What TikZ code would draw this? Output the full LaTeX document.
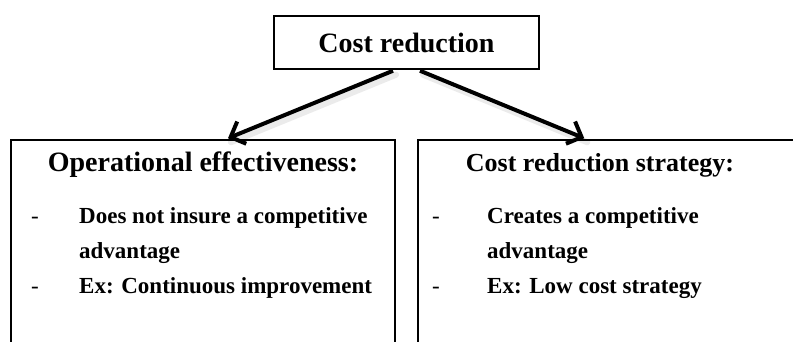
\documentclass[tikz,border=0pt]{standalone}
\usepackage{fontspec}
\setmainfont{Liberation Serif}
\usetikzlibrary{arrows.meta}
\begin{document}
\begin{tikzpicture}[x=1pt,y=-1pt,
  box/.style={draw, line width=1.5pt, inner sep=0pt},
  head/.style={font=\bfseries\fontsize{28}{30}\selectfont, inner sep=0pt},
  item/.style={font=\bfseries\fontsize{23}{26}\selectfont, anchor=base west, inner sep=0pt},
  dashitem/.style={font=\fontsize{23}{26}\selectfont, anchor=base west, inner sep=0pt},
  conn/.style={line width=4pt, -{Straight Barb[length=12pt,width=24pt,line width=4pt]}},
  shade/.style={line width=6pt, black, opacity=0.08, line cap=round}]
\useasboundingbox (0,0) rectangle (793,342);
\begin{scope}
\clip (0,0) rectangle (793,342);
\node[box, head, minimum width=265pt, minimum height=53pt] (top) at (406.5,42.5) {Cost reduction};
\node[box, minimum width=384pt, minimum height=260pt] (lbox) at (203,270) {};
\node[box, minimum width=482pt, minimum height=260pt] (rbox) at (659,270) {};
\end{scope}
\path (top.south) ++(-13.5,1) coordinate (ls);
\path (top.south) ++(13.5,1) coordinate (rs);
\path (lbox.north) ++(25,-1) coordinate (le);
\path (rbox.north west) ++(167,-1) coordinate (re);
% soft shadows
\draw[shade] ([shift={(3,4)}]ls) -- ([shift={(3,4)}]le);
\draw[shade] ([shift={(3,4)}]rs) -- ([shift={(3,4)}]re);
\draw[conn] (ls) -- (le);
\draw[conn] (rs) -- (re);
% left box text
\node[head] (lh) at (203,165) {Operational effectiveness:};
\node[dashitem] (ld1) at (31,223) {-};
\node[item] (l1) at (79,223) {Does not insure a competitive};
\node[item] (l2) at (79,258) {advantage};
\node[dashitem] (ld2) at (31,293) {-};
\node[item] (l3) at (79,293) {Ex: Continuous improvement};
% right box text
\node[head, font=\bfseries\fontsize{26}{30}\selectfont] (rh) at (600,165) {Cost reduction strategy:};
\node[dashitem] (rd1) at (432,223) {-};
\node[item] (r1) at (487,223) {Creates a competitive};
\node[item] (r2) at (487,258) {advantage};
\node[dashitem] (rd2) at (432,293) {-};
\node[item] (r3) at (487,293) {Ex: Low cost strategy};
\end{tikzpicture}
\end{document}
